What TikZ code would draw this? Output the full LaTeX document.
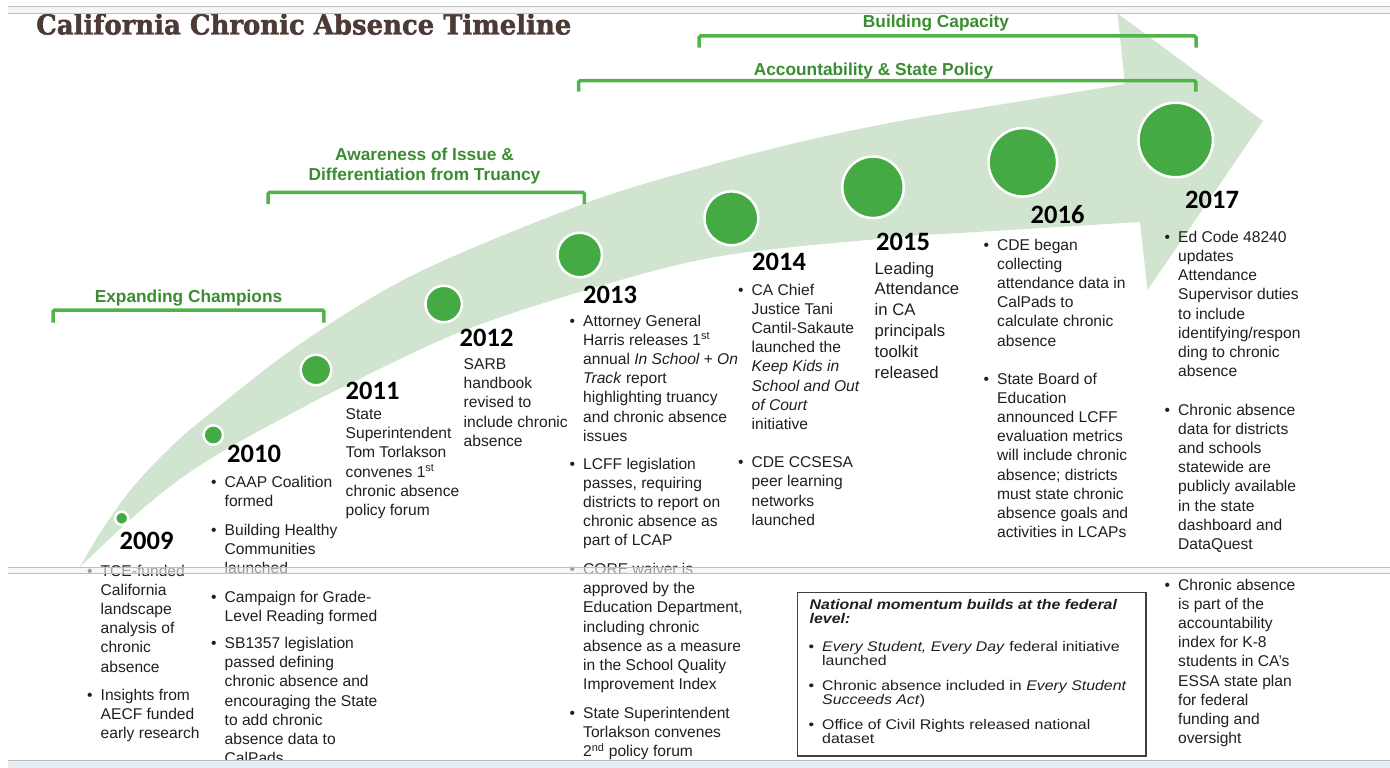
\documentclass[tikz,border=0pt]{standalone}
\usepackage{fontspec}
\usepackage{graphicx}
\setmainfont{Liberation Sans}
\newfontfamily\yrfont{Carlito}
\newfontfamily\ttlfont{DejaVu Serif}[BoldFeatures={FakeBold=1.6}]
\newfontfamily\natfont{Liberation Sans}[FakeStretch=1.135]

\definecolor{bandgreen}{RGB}{209,228,208}
\definecolor{dotgreen}{RGB}{69,170,67}
\definecolor{brgreen}{RGB}{80,180,72}
\definecolor{lblgreen}{RGB}{58,140,48}
\definecolor{titlebrown}{RGB}{76,58,52}
\definecolor{barbottom}{RGB}{232,237,242}

\newcommand\bul[1]{\makebox[13.5pt][l]{\textbullet}\begin{tabular}[t]{@{}l@{}}#1\end{tabular}}
\newcommand\lns[1]{\begin{tabular}[t]{@{}l@{}}#1\end{tabular}}

\tikzset{
  dot/.style={circle, fill=dotgreen, draw=white, line width=2.5pt, inner sep=0pt},
  yearlbl/.style={font=\yrfont\bfseries\fontsize{26.5}{28}\selectfont, anchor=base west, inner sep=0pt},
  entry/.style={font=\fontsize{15.6}{19.2}\selectfont, text=black!88, anchor=base west, inner sep=0pt},
  natentry/.style={font=\natfont\fontsize{14}{13.7}\selectfont, text=black!88, anchor=base west, inner sep=0pt},
  grplbl/.style={font=\bfseries\fontsize{17.3}{20}\selectfont, text=lblgreen, anchor=base, inner sep=0pt},
  grpbracket/.style={draw=brgreen, line width=3.5pt, rounded corners=1.5pt},
}

\begin{document}
\begin{tikzpicture}[x=1pt, y=-1pt]
\useasboundingbox (0,0) rectangle (1390,768);

% the big curved arrow
\fill[bandgreen] plot[smooth, tension=0.55] coordinates {(80,567) (100,533) (133,487) (173,445) (213,411) (300,344) (415,274) (583,204) (700,168) (800,142) (900,121) (1010,103) (1125,84)}
  -- (1117.5,13.4) -- (1263,121) -- (1147.5,290) -- (1140,222)
  -- plot[smooth, tension=0.55] coordinates {(1140,222) (960,233) (900,237) (721,256) (590,289) (460,332) (345,386) (300,409) (230,447) (180,479) (132,518) (80,567)} -- cycle;

% title
\node[anchor=base west, inner sep=0pt, text=titlebrown] (title) at (36,34.5)
  {\resizebox{535pt}{21pt}{\ttlfont\bfseries California Chronic Absence Timeline}};

% phases
\draw[grpbracket] (53,322.7) |- (323.8,310) -- (323.8,322.7);
\draw[grpbracket] (268,204) |- (584.3,192.3) -- (584.3,204);
\draw[grpbracket] (578.6,91.7) |- (1195.9,80.7) -- (1195.9,91.7);
\draw[grpbracket] (699,47.7) |- (1196,36) -- (1196,47.7);
\node[grplbl] (champ) at (188.5,302.3) {Expanding Champions};
\node[grplbl] (aware) at (424.5,160) {\begin{tabular}[t]{@{}c@{}}Awareness of Issue \&\\Differentiation from Truancy\end{tabular}};
\node[grplbl] (acct) at (873.5,75) {Accountability \& State Policy};
\node[grplbl] (build) at (936,27.3) {Building Capacity};

% milestones
\node[dot, minimum size=13.1pt] (d09) at (121.7,518.3) {};
\node[dot, minimum size=19.5pt] (d10) at (213.3,435) {};
\node[dot, minimum size=30.5pt] (d11) at (316,370) {};
\node[dot, minimum size=36.5pt] (d12) at (443.7,304) {};
\node[dot, minimum size=44.5pt] (d13) at (579.7,255) {};
\node[dot, minimum size=53.9pt] (d14) at (731.4,218.3) {};
\node[dot, minimum size=61.5pt] (d15) at (873,187.3) {};
\node[dot, minimum size=68.5pt] (d16) at (1022.8,162.3) {};
\node[dot, minimum size=74.5pt] (d17) at (1175.7,140) {};

\node[yearlbl] (y09) at (119.5,549.5) {2009};
\node[yearlbl] (y10) at (227,462) {2010};
\node[yearlbl] (y11) at (345.5,399.5) {2011};
\node[yearlbl] (y12) at (459.5,346) {2012};
\node[yearlbl] (y13) at (583,303.5) {2013};
\node[yearlbl] (y14) at (752,270) {2014};
\node[yearlbl] (y15) at (876,250.5) {2015};
\node[yearlbl] (y16) at (1030.5,223.5) {2016};
\node[yearlbl] (y17) at (1185,208.5) {2017};

% 2009
\node[entry] (t09a) at (87,576) {\bul{TCE-funded\\California\\landscape\\analysis of\\chronic\\absence}};
\node[entry] (t09b) at (87,700) {\bul{Insights from\\AECF funded\\early research}};
% 2010
\node[entry] (t10a) at (211,487.5) {\bul{CAAP Coalition\\formed}};
\node[entry] (t10b) at (211,535) {\bul{Building Healthy\\Communities\\launched}};
\node[entry] (t10c) at (211,602) {\bul{Campaign for Grade-\\Level Reading formed}};
\node[entry] (t10d) at (211,648.5) {\bul{SB1357 legislation\\passed defining\\chronic absence and\\encouraging the State\\to add chronic\\absence data to\\CalPads}};
% 2011, 2012
\node[entry] (t11) at (345.5,419.5) {\lns{State\\Superintendent\\Tom Torlakson\\convenes 1\textsuperscript{st}\\chronic absence\\policy forum}};
\node[entry] (t12) at (463.5,369.5) {\lns{SARB\\handbook\\revised to\\include chronic\\absence}};
% 2013
\node[entry] (t13a) at (569.5,326) {\bul{Attorney General\\Harris releases 1\textsuperscript{st}\\annual \textit{In School + On}\\\textit{Track} report\\highlighting truancy\\and chronic absence\\issues}};
\node[entry] (t13b) at (569.5,469) {\bul{LCFF legislation\\passes, requiring\\districts to report on\\chronic absence as\\part of LCAP}};
\node[entry] (t13c) at (569.5,574.5) {\bul{CORE waiver is\\approved by the\\Education Department,\\including chronic\\absence as a measure\\in the School Quality\\Improvement Index}};
\node[entry] (t13d) at (569.5,718.5) {\bul{State Superintendent\\Torlakson convenes\\2\textsuperscript{nd} policy forum}};
% 2014
\node[entry] (t14a) at (738,295) {\bul{CA Chief\\Justice Tani\\Cantil-Sakaute\\launched the\\\textit{Keep Kids in}\\\textit{School and Out}\\\textit{of Court}\\initiative}};
\node[entry] (t14b) at (738,467.7) {\bul{CDE CCSESA\\peer learning\\networks\\launched}};
% 2015
\node[entry, font=\fontsize{16.7}{20.9}\selectfont] (t15) at (874.5,274) {\lns{Leading\\Attendance\\in CA\\principals\\toolkit\\released}};
% 2016
\node[entry] (t16a) at (983.5,250) {\bul{CDE began\\collecting\\attendance data in\\CalPads to\\calculate chronic\\absence}};
\node[entry] (t16b) at (983.5,384) {\bul{State Board of\\Education\\announced LCFF\\evaluation metrics\\will include chronic\\absence; districts\\must state chronic\\absence goals and\\activities in LCAPs}};
% 2017
\node[entry] (t17a) at (1164.5,242.3) {\bul{Ed Code 48240\\updates\\Attendance\\Supervisor duties\\to include\\identifying/respon\\ding to chronic\\absence}};
\node[entry] (t17b) at (1164.5,415) {\bul{Chronic absence\\data for districts\\and schools\\statewide are\\publicly available\\in the state\\dashboard and\\DataQuest}};
\node[entry] (t17c) at (1164.5,590) {\bul{Chronic absence\\is part of the\\accountability\\index for K-8\\students in CA's\\ESSA state plan\\for federal\\funding and\\oversight}};

% national box
\draw[black!75, line width=1.3pt] (797.5,592.5) rectangle (1146,756);
\node[natentry, font=\natfont\bfseries\itshape\fontsize{14}{13.7}\selectfont] (nathead) at (809.5,609.3) {\lns{National momentum builds at the federal\\level:}};
\node[natentry] (nat1) at (808.5,651) {\bul{\textit{Every Student, Every Day} federal initiative\\launched}};
\node[natentry] (nat2) at (808.5,690.5) {\bul{Chronic absence included in \textit{Every Student}\\\textit{Succeeds Act})}};
\node[natentry] (nat3) at (808.5,729.5) {\bul{Office of Civil Rights released national\\dataset}};

% window bars
\fill[gray!8] (8,6.5) rectangle (1390,13.5);
\draw[gray!50] (8,6.5) -- (1390,6.5) (8,13.5) -- (1390,13.5);
\fill[gray!10, opacity=0.6] (8,567.5) rectangle (1390,573.5);
\draw[gray!50] (8,567.5) -- (1390,567.5) (8,573.5) -- (1390,573.5);
\fill[barbottom] (8,760.5) rectangle (1390,768);
\draw[gray!55] (8,760.5) -- (1390,760.5);
\end{tikzpicture}
\end{document}
